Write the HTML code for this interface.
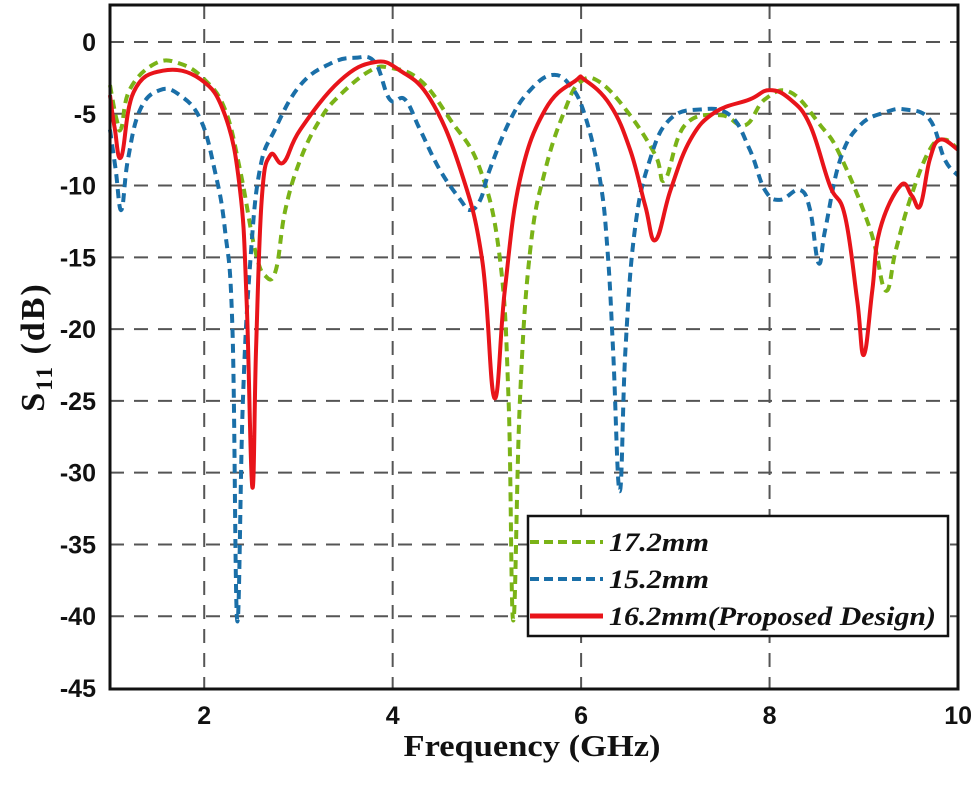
<!DOCTYPE html>
<html><head><meta charset="utf-8"><style>
body{margin:0;background:#fff;width:975px;height:798px;overflow:hidden}
svg{display:block}
.tk{font-family:"Liberation Sans",Arial,sans-serif;font-weight:bold;font-size:25px;fill:#111}
.lg{font-family:"Liberation Serif",serif;font-weight:bold;font-style:italic;font-size:26px;fill:#111}
</style></head><body>
<svg id="chart" width="975" height="798">
<g id="grid"></g>
<g id="series"></g>
<rect x="110" y="5" width="848" height="684" fill="none" stroke="#111" stroke-width="3"/>
<g id="ticks"></g>
<text x="532" y="756" text-anchor="middle" font-family="Liberation Serif,serif" font-weight="bold" font-size="31" textLength="257" lengthAdjust="spacingAndGlyphs" fill="#111">Frequency (GHz)</text>
<text transform="translate(44,347) rotate(-90)" text-anchor="middle" font-family="Liberation Serif,serif" font-weight="bold" font-size="34" letter-spacing="2" fill="#111">S<tspan font-size="23" dy="8">11</tspan><tspan dy="-8"> (dB)</tspan></text>
<g>
<rect x="528" y="516" width="420" height="120" fill="#fff" stroke="#111" stroke-width="2.5"/>
<line x1="530" y1="542" x2="603" y2="542" stroke="#7ab317" stroke-width="4" stroke-dasharray="9,5"/>
<text x="609" y="551" class="lg" textLength="100" lengthAdjust="spacingAndGlyphs">17.2mm</text>
<line x1="530" y1="579" x2="603" y2="579" stroke="#1a6fa8" stroke-width="4" stroke-dasharray="9,5"/>
<text x="609" y="588" class="lg" textLength="100" lengthAdjust="spacingAndGlyphs">15.2mm</text>
<line x1="530" y1="616" x2="603" y2="616" stroke="#e8141a" stroke-width="5"/>
<text x="609" y="625" class="lg" textLength="327" lengthAdjust="spacingAndGlyphs">16.2mm(Proposed Design)</text>
</g>
</svg>
<script>
const xTicks=[2,4,6,8,10];
const yTicks=[0,-5,-10,-15,-20,-25,-30,-35,-40,-45];
const greenF=[1.0,1.07,1.12,1.21,1.48,1.74,2.0,2.22,2.38,2.54,2.65,2.76,2.86,3.02,3.23,3.44,3.76,3.97,4.29,4.61,4.93,5.14,5.23,5.28,5.35,5.46,5.62,5.83,5.99,6.20,6.52,6.79,6.89,7.10,7.48,7.74,7.95,8.22,8.54,8.75,9.07,9.23,9.34,9.49,9.70,9.86,10];
const greenDb=[-3.0,-5.4,-6.0,-3.3,-1.5,-1.5,-2.6,-4.7,-8.9,-14.5,-16.3,-15.9,-11.7,-8.2,-5.4,-3.7,-2.0,-1.8,-2.65,-5.4,-8.9,-15.2,-25,-40.3,-25,-14.5,-8.9,-4.7,-2.8,-2.8,-5.1,-7.9,-9.6,-5.8,-5.1,-5.8,-4.0,-3.5,-5.8,-7.9,-13.1,-17.3,-14.5,-11,-7.5,-6.8,-7.5];
const blueF=[1.0,1.06,1.12,1.19,1.32,1.53,1.74,1.96,2.11,2.22,2.30,2.35,2.41,2.49,2.59,2.75,3.02,3.34,3.60,3.81,3.97,4.13,4.29,4.50,4.72,4.82,4.93,5.03,5.25,5.46,5.69,5.88,6.04,6.20,6.28,6.34,6.41,6.47,6.57,6.73,6.94,7.26,7.58,7.79,7.95,8.11,8.32,8.43,8.52,8.59,8.75,8.96,9.23,9.44,9.70,9.86,10];
const blueDb=[-6.1,-8.9,-11.7,-8.2,-4.7,-3.35,-3.7,-5.4,-8.9,-13.1,-20.1,-40.3,-25,-15.2,-8.9,-6.1,-3.0,-1.5,-1.1,-1.4,-4.0,-4.0,-6.1,-8.9,-11,-11.7,-11,-8.9,-5.4,-3.35,-2.3,-3.0,-5.1,-9.6,-14.5,-21.5,-31.3,-21.5,-13.1,-8.2,-5.4,-4.7,-5.1,-7.5,-10.3,-11,-10.3,-11.7,-15.4,-13.1,-8.2,-5.8,-4.9,-4.7,-5.4,-8.2,-9.3];
const redF=[1.0,1.05,1.12,1.25,1.56,1.96,2.22,2.38,2.45,2.51,2.55,2.61,2.70,2.84,3.02,3.44,3.81,4.08,4.40,4.72,4.95,5.08,5.19,5.35,5.62,5.94,6.04,6.31,6.52,6.68,6.79,6.95,7.16,7.42,7.79,8.0,8.22,8.43,8.64,8.80,8.93,9.0,9.09,9.17,9.39,9.51,9.60,9.70,9.81,10];
const redDb=[-3.7,-6.0,-8.0,-3.5,-2.0,-2.6,-5.1,-10.3,-18,-31,-21.5,-11,-7.9,-8.4,-6.1,-2.7,-1.4,-2.0,-4.0,-8.9,-15.2,-24.8,-17.3,-9.6,-4.7,-2.7,-2.65,-4.4,-7.5,-11.4,-13.8,-10.3,-6.8,-4.9,-4.0,-3.35,-4.0,-5.8,-10,-12.1,-18,-21.8,-17.3,-13.1,-10,-10.7,-11.4,-8.2,-6.8,-7.5];

const NS='http://www.w3.org/2000/svg';
const X0=110,X1=958,Y0=5,Y1=689;
const xs=f=>X0+(f-1)/9*(X1-X0);
const ys=d=>42+(-d)/45*(688-42);
function mk(tag,attrs,parent){const e=document.createElementNS(NS,tag);for(const k in attrs)e.setAttribute(k,attrs[k]);parent.appendChild(e);return e;}
const grid=document.getElementById('grid'),ticks=document.getElementById('ticks'),series=document.getElementById('series');
xTicks.forEach(t=>{
  if(t<10){const l=mk('line',{x1:xs(t),x2:xs(t),y1:Y0,y2:Y1,stroke:'#555','stroke-width':2,'stroke-dasharray':'14,10'},grid);
  
  }
  const tx=mk('text',{x:xs(t),y:724,'text-anchor':t==10?'end':'middle',class:'tk'},ticks);
  tx.textContent=t;
  
  
  if(t==10)tx.setAttribute('x',X1+14);
});
yTicks.forEach(t=>{
  if(t>-45){const l=mk('line',{x1:X0,x2:X1,y1:ys(t),y2:ys(t),stroke:'#555','stroke-width':2,'stroke-dasharray':'14,10'},grid);
  
  }
  const tx=mk('text',{x:96,y:ys(t)+9,'text-anchor':'end',class:'tk'},ticks);
  tx.textContent=t;
  
  
});
function smoothPath(P){
  let d='M'+P[0][0].toFixed(1)+','+P[0][1].toFixed(1);
  for(let i=0;i<P.length-1;i++){
    const p0=P[i-1]||P[i],p1=P[i],p2=P[i+1],p3=P[i+2]||p2;
    const t=0.2;
    const c1=[p1[0]+(p2[0]-p0[0])*t,p1[1]+(p2[1]-p0[1])*t];
    const c2=[p2[0]-(p3[0]-p1[0])*t,p2[1]-(p3[1]-p1[1])*t];
    d+=' C'+c1.map(v=>v.toFixed(1)).join(',')+' '+c2.map(v=>v.toFixed(1)).join(',')+' '+p2[0].toFixed(1)+','+p2[1].toFixed(1);
  }
  return d;
}
function draw(F,D,color,dash,w,name){
  const P=F.map((f,i)=>[xs(f),ys(D[i])]);
  const p=mk('path',{d:smoothPath(P),fill:'none',stroke:color,'stroke-width':w,'stroke-linejoin':'round'},series);
  if(dash)p.setAttribute('stroke-dasharray',dash);
  
  
}
draw(greenF,greenDb,'#7ab317','9,6',4,'series-17-2mm');
draw(blueF,blueDb,'#1a6fa8','9,6',4,'series-15-2mm');
draw(redF,redDb,'#e8141a',null,4,'series-16-2mm');
</script>
</body></html>
